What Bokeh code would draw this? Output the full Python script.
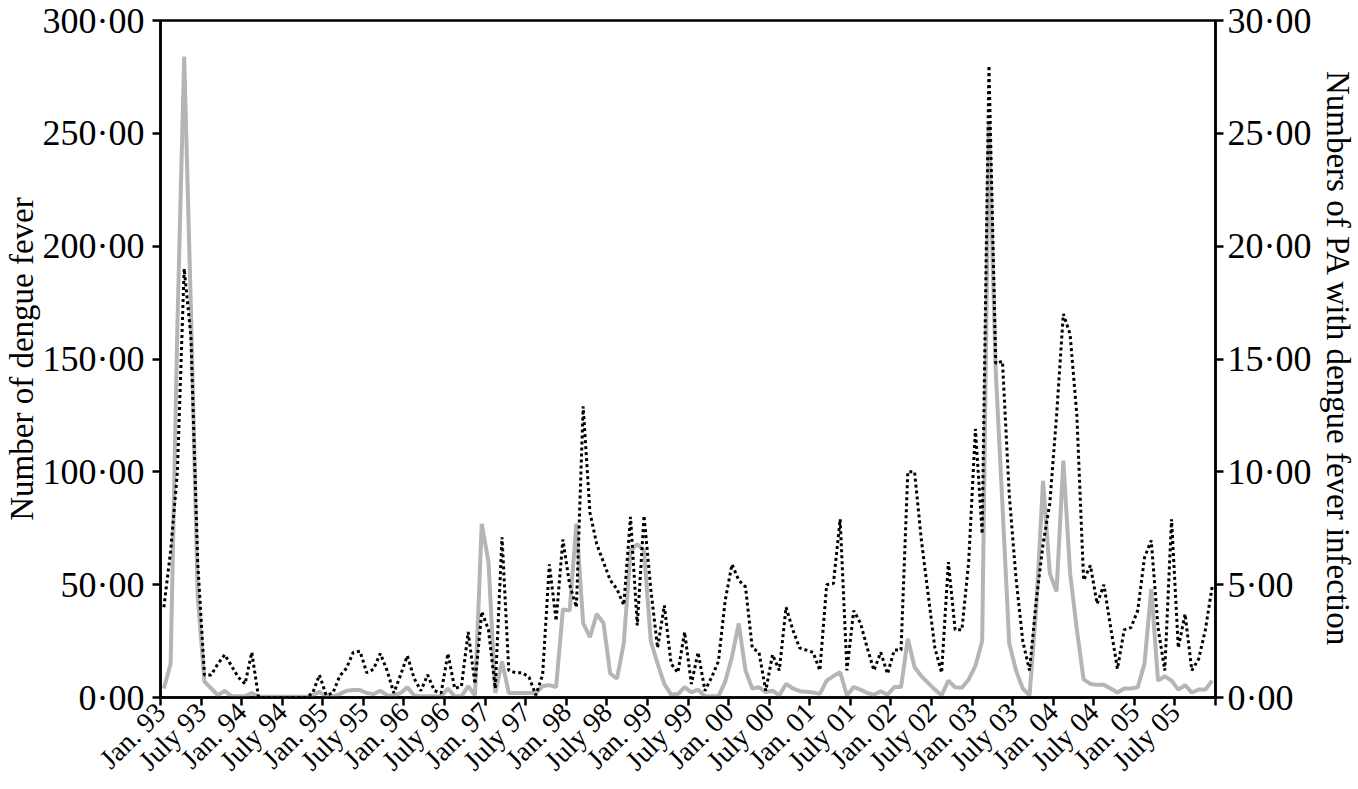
import math
import numpy as np
from bokeh.plotting import figure
from bokeh.models import Range1d, LinearAxis, FixedTicker
from bokeh.embed import file_html
from bokeh.resources import INLINE

# Monthly values, Jan 1993 - Dec 2005
dengue_1993 = [4, 15, 165, 284, 172, 45, 7, 4, 1, 3, 0.5, 0.5]
dengue_1994 = [0.5, 2, 0.3, 0.3, 0.3, 0.3, 0.3, 0.3, 0.3, 0.3, 1, 2.5]
dengue_1995 = [0.5, 0.5, 1.5, 3, 3.3, 3.3, 2, 1.5, 3, 1, 0.8, 2]
dengue_1996 = [4.5, 1, 0.5, 0.5, 0.5, 0.5, 4, 0.5, 0.5, 5, 1, 77]
dengue_1997 = [60, 2, 16, 2, 2, 2, 2, 2, 5, 5.5, 4.6, 39]
dengue_1998 = [38.5, 77, 33, 26.7, 37, 33, 10.6, 8.4, 24, 65, 68, 65]
dengue_1999 = [25, 15, 6, 1.3, 1.5, 4.6, 2.3, 3.5, 0.5, 0.5, 0.5, 7]
dengue_2000 = [18, 32.8, 12, 4, 4.5, 2.4, 3, 1, 6, 4, 2.8, 2.5]
dengue_2001 = [2.2, 1.6, 7.5, 9.5, 11.2, 0.9, 4.6, 3.5, 2, 1.2, 2.8, 1.2]
dengue_2002 = [4.6, 4.6, 26, 13.4, 9.5, 6.5, 3.5, 1, 7.5, 4.5, 4.3, 8]
dengue_2003 = [14, 25, 254, 145, 85, 24, 12, 4, 1, 40, 96, 55]
dengue_2004 = [47, 105, 55, 30, 8, 6, 5.6, 5.6, 4, 2.2, 4, 4]
dengue_2005 = [4.5, 15, 48, 7.5, 9.4, 7.5, 3.5, 5.5, 2.2, 3.5, 3.5, 7.5]

pa_1993 = [4.0, 6.5, 10, 19, 16, 6, 1.0, 1.0, 1.5, 1.9, 1.4, 0.9]
pa_1994 = [0.6, 2.0, 0, 0, 0, 0, 0, 0, 0, 0, 0.2, 1.0]
pa_1995 = [0.1, 0.2, 0.95, 1.3, 2.0, 2.05, 1.1, 1.25, 1.95, 1.2, 0.2, 1.0]
pa_1996 = [1.85, 0.85, 0.3, 1.0, 0.3, 0.2, 1.95, 0.4, 0.5, 2.9, 0.6, 3.8]
pa_1997 = [3.0, 0.4, 7.1, 1.2, 1.1, 1.1, 0.9, 0.1, 1.0, 5.9, 3.4, 7.0]
pa_1998 = [5.0, 4.0, 12.9, 8.2, 6.8, 6.0, 5.2, 4.8, 4.1, 8.0, 3.2, 8.06]
pa_1999 = [4.8, 2.2, 4.08, 1.5, 1.1, 2.9, 0.6, 2.0, 0.3, 0.9, 1.6, 4.3]
pa_2000 = [5.9, 5.2, 4.9, 2.2, 2.0, 0.3, 1.9, 1.2, 4.0, 3.0, 2.2, 2.1]
pa_2001 = [2.0, 1.2, 5.0, 5.05, 7.9, 1.2, 3.85, 3.3, 2.2, 1.2, 2.0, 1.05]
pa_2002 = [2.1, 2.1, 10.0, 10.0, 7.0, 4.6, 2.2, 1.1, 6.0, 3.0, 3.0, 6.0]
pa_2003 = [11.9, 7.25, 28.0, 14.8, 14.9, 9.0, 5.3, 2.5, 1.2, 4.3, 6.8, 8.6]
pa_2004 = [12.5, 17.0, 16.1, 12.5, 5.2, 5.85, 4.15, 5.0, 3.1, 1.27, 3.0, 3.1]
pa_2005 = [3.85, 6.2, 6.96, 3.1, 1.2, 7.9, 2.2, 3.7, 1.2, 1.7, 3.0, 4.9]

x_tick_labels = ["Jan. 93", "July 93", "Jan. 94", "July 94", "Jan. 95", "July 95",
                 "Jan. 96", "July 96", "Jan. 97", "July 97", "Jan. 98", "July 98",
                 "Jan. 99", "July 99", "Jan. 00", "July 00", "Jan. 01", "July 01",
                 "Jan. 02", "July 02", "Jan. 03", "July 03", "Jan. 04", "July 04",
                 "Jan. 05", "July 05"]
left_ticks = [0, 50, 100, 150, 200, 250, 300]
right_ticks = [0, 5, 10, 15, 20, 25, 30]

dengue = (dengue_1993 + dengue_1994 + dengue_1995 + dengue_1996 + dengue_1997 +
          dengue_1998 + dengue_1999 + dengue_2000 + dengue_2001 + dengue_2002 +
          dengue_2003 + dengue_2004 + dengue_2005)
pa = (pa_1993 + pa_1994 + pa_1995 + pa_1996 + pa_1997 + pa_1998 + pa_1999 +
      pa_2000 + pa_2001 + pa_2002 + pa_2003 + pa_2004 + pa_2005)
month = np.arange(len(dengue)) + 0.5  # mid-month positions

FONT = "Liberation Serif"

p = figure(frame_width=1055, frame_height=677,
           x_range=Range1d(0, 156), y_range=Range1d(0, 300),
           output_backend="svg", toolbar_location=None,
           min_border_left=155, min_border_right=132, min_border_top=20, min_border_bottom=80)
p.extra_y_ranges = {"pa": Range1d(0, 30)}
p.xgrid.visible = False
p.ygrid.visible = False
p.outline_line_color = "black"
p.outline_line_width = 2.5
p.background_fill_color = "white"
p.border_fill_color = "white"

p.line(month, dengue, line_color="#b5b5b5", line_width=4)
p.line(month, pa, y_range_name="pa", line_color="black", line_width=3, line_dash="3 3")

right = LinearAxis(y_range_name="pa")
p.add_layout(right, "right")

def style(ax):
    ax.axis_line_width = 2.5
    ax.axis_line_color = "black"
    ax.major_tick_line_width = 2.5
    ax.major_tick_line_color = "black"
    ax.major_tick_out = 8
    ax.major_tick_in = 0
    ax.minor_tick_line_color = None
    ax.major_label_text_font = FONT
    ax.major_label_text_color = "black"
    ax.axis_label_text_font = FONT
    ax.axis_label_text_font_style = "normal"
    ax.axis_label_text_color = "black"

for ax in (p.xaxis[0], p.yaxis[0], right):
    style(ax)

yl = p.yaxis[0]
yl.ticker = FixedTicker(ticks=left_ticks)
yl.major_label_overrides = {t: f"{t}·00" for t in left_ticks}
yl.major_label_text_font_size = "36px"
yl.major_label_standoff = 8
yl.axis_label = "Number of dengue fever"
yl.axis_label_text_font_size = "33px"
yl.axis_label_standoff = 0

right.ticker = FixedTicker(ticks=right_ticks)
right.major_label_overrides = {t: f"{t}·00" for t in right_ticks}
right.major_label_text_font_size = "36px"
right.major_label_standoff = 4
right.axis_label = "Numbers of PA with dengue fever infection"
right.axis_label_text_font_size = "33px"
right.axis_label_standoff = 6

xa = p.xaxis[0]
x_ticks = list(range(0, 157, 6))
xa.ticker = FixedTicker(ticks=x_ticks)
ov = {t: "" for t in x_ticks}
for t, lab in zip(x_ticks, x_tick_labels):
    ov[t] = lab
xa.major_label_overrides = ov
xa.major_label_orientation = math.pi / 4
xa.major_label_text_font_size = "28px"
xa.major_label_standoff = 2

open("out.html", "w").write(file_html(p, INLINE))
